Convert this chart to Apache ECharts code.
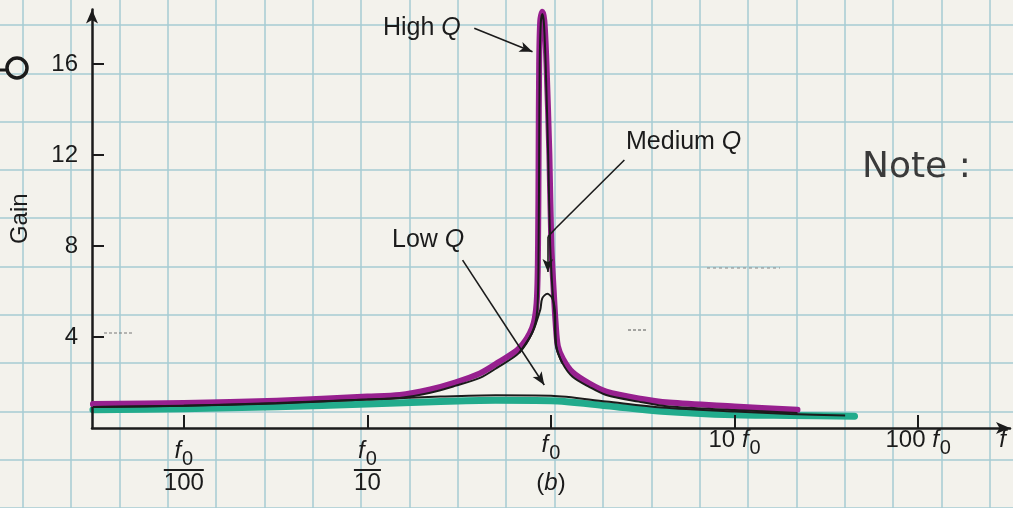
<!DOCTYPE html>
<html>
<head>
<meta charset="utf-8">
<title>Gain vs frequency</title>
<script src="https://cdn.jsdelivr.net/npm/echarts@6.0.0/dist/echarts.min.js"></script>
<style>
  html, body { margin:0; padding:0; background:#f3f2ec; }
  #chart { width:1013px; height:508px; }
</style>
</head>
<body>
<div id="chart"></div>
<script>
// x is f / f0 (log axis), y is gain
const yTicks = [4, 8, 12, 16];
const xTicks = [0.01, 0.1, 1, 10, 100];

// low Q: printed line and the green marker drawn under it
const lowFreq = [0.0032, 0.01, 0.032, 0.1, 0.25, 0.5, 1, 2, 4, 10, 20, 40];
const lowGain = [0.92, 0.98, 1.1, 1.25, 1.38, 1.44, 1.42, 1.16, 0.9, 0.72, 0.62, 0.55];
const lowMarkFreq = [0.0032, 0.01, 0.032, 0.1, 0.25, 0.5, 1, 2, 4, 10, 20, 45];
const lowMarkGain = [0.8, 0.85, 0.93, 1.05, 1.17, 1.22, 1.2, 0.98, 0.74, 0.58, 0.55, 0.52];

// high Q: printed line and the purple marker
const highFreq = [0.0032, 0.01, 0.032, 0.1, 0.15, 0.22, 0.3, 0.41, 0.52, 0.67,
  0.79, 0.842, 0.856, 0.862, 0.868, 0.88, 0.897, 0.915, 0.935, 0.965,
  0.99, 1.02, 1.045, 1.065, 1.156, 1.31, 1.62, 2, 3, 4.4, 10, 22];
const highGain = [0.92, 0.98, 1.08, 1.25, 1.32, 1.55, 1.85, 2.2, 2.7, 3.3,
  4.2, 5.2, 8, 12, 16, 17.8, 18.2, 17.8, 16, 12,
  8, 6, 5.0, 3.6, 2.84, 2.25, 1.8, 1.45, 1.16, 0.94, 0.79, 0.66];
const highMarkFreq = [0.0032, 0.01, 0.032, 0.1, 0.15, 0.22, 0.3, 0.41, 0.52, 0.67,
  0.79, 0.835, 0.85, 0.856, 0.862, 0.874, 0.897, 0.92, 0.945, 0.98,
  1.005, 1.035, 1.06, 1.09, 1.16, 1.31, 1.62, 2, 3, 4.4, 10, 22];
const highMarkGain = [1.05, 1.1, 1.2, 1.38, 1.45, 1.7, 2.0, 2.4, 2.9, 3.5,
  4.4, 5.5, 8, 12, 16, 17.9, 18.3, 17.9, 16, 12,
  8, 6, 4.6, 3.6, 3.05, 2.45, 1.95, 1.6, 1.3, 1.12, 0.95, 0.8];

// medium Q only differs from high Q near f0
const medFreq = [0.672, 0.791, 0.874, 0.896, 0.955, 1.016, 1.049, 1.069, 1.152];
const medGain = [3.3, 4.2, 5.2, 5.7, 5.9, 5.7, 5.2, 3.6, 2.84];

const FONT = "'Liberation Sans', Arial, sans-serif";
const INK = '#1b1b1b';
const PAPER_LINE = '#a6cbd3';

function pairs(xs, ys) {
  return xs.map((x, i) => [x, ys[i]]);
}

function tok(extra) {
  return Object.assign({ fontFamily: FONT, fontSize: 24, color: INK, align: 'center', verticalAlign: 'top' }, extra);
}

const xRich = {
  n: tok({}),
  f: tok({ fontStyle: 'italic' }),
  s: tok({ fontSize: 20, padding: [10, 0, 0, 1] }),
  P: tok({ fontStyle: 'italic', padding: [5, 0, 0, 0] }),
  Ps: tok({ fontSize: 20, padding: [15, 0, 0, 1] }),
  F: tok({ fontStyle: 'italic', padding: [11, 0, 0, 0] }),
  Fs: tok({ fontSize: 20, padding: [21, 0, 0, 1] }),
  bar3: { width: 40, height: 2, backgroundColor: INK, align: 'center', fontSize: 2 },
  bar2: { width: 27, height: 2, backgroundColor: INK, align: 'center', fontSize: 2 },
  pb: tok({ padding: [8, 0, 0, 0] }),
  bi: tok({ fontStyle: 'italic', padding: [8, 0, 0, 0] })
};

function xLabel(v) {
  const e = Math.round(Math.log10(v));
  if (e === -2) return '{F|f}{Fs|0}\n{bar3| }\n{n|100}';
  if (e === -1) return '{F|f}{Fs|0}\n{bar2| }\n{n|10}';
  if (e === 0) return '{P|f}{Ps|0}\n{pb|(}{bi|b}{pb|)}';
  if (e === 1) return '{n|10 }{f|f}{s|0}';
  if (e === 2) return '{n|100 }{f|f}{s|0}';
  return '';
}

const qRich = {
  a: { fontFamily: FONT, fontSize: 25, fill: INK },
  q: { fontFamily: FONT, fontSize: 25, fill: INK, fontStyle: 'italic' }
};

const chart = echarts.init(document.getElementById('chart'));

chart.setOption({
  backgroundColor: '#f3f2ec',
  animation: false,
  grid: [
    { left: 92, right: 3, top: 9.4, bottom: 80, outerBoundsMode: 'none' },
    // graph paper
    { left: -25.65, top: -23.3, width: 1063.7, height: 531.3, outerBoundsMode: 'none' }
  ],
  xAxis: [
    {
      type: 'log', logBase: 10, gridIndex: 0,
      min: Math.pow(10, -2.5), max: Math.pow(10, 2.5),
      z: 3,
      axisLine: { show: true, lineStyle: { color: INK, width: 2.5 }, symbol: ['none', 'arrow'], symbolSize: [9, 14] },
      axisTick: { show: true, inside: true, length: 13, lineStyle: { color: INK, width: 2 }, customValues: xTicks },
      axisLabel: { margin: 0, customValues: xTicks, formatter: xLabel, rich: xRich },
      splitLine: { show: false },
      minorTick: { show: false },
      name: 'f', nameLocation: 'end', nameGap: -4,
      nameTextStyle: { fontFamily: FONT, fontSize: 24, fontStyle: 'italic', color: INK, align: 'right', verticalAlign: 'top' }
    },
    {
      type: 'value', gridIndex: 1, min: 0, max: 22, interval: 1, z: 0,
      axisLine: { show: false }, axisTick: { show: false }, axisLabel: { show: false },
      splitLine: { show: true, lineStyle: { color: PAPER_LINE, width: 1.5 } }
    }
  ],
  yAxis: [
    {
      type: 'value', gridIndex: 0, min: 0, max: 18.4, z: 3,
      axisLine: { show: true, lineStyle: { color: INK, width: 2.5 }, symbol: ['none', 'arrow'], symbolSize: [9, 14] },
      axisTick: { show: true, inside: true, length: 12, lineStyle: { color: INK, width: 2 }, customValues: yTicks },
      axisLabel: { margin: 14, customValues: yTicks, fontFamily: FONT, fontSize: 24, color: INK },
      splitLine: { show: false },
      name: 'Gain', nameLocation: 'middle', nameGap: 60,
      nameTextStyle: { fontFamily: FONT, fontSize: 24, color: INK }
    },
    {
      type: 'value', gridIndex: 1, min: 0, max: 11, interval: 1, inverse: true, z: 0,
      axisLine: { show: false }, axisTick: { show: false }, axisLabel: { show: false },
      splitLine: { show: true, lineStyle: { color: PAPER_LINE, width: 1.5 } }
    }
  ],
  series: [
    {
      name: 'Low Q marker', type: 'line', z: 2, smooth: 0.3, showSymbol: false, silent: true,
      data: pairs(lowMarkFreq, lowMarkGain),
      lineStyle: { color: '#22ab8c', width: 7, cap: 'round' }
    },
    {
      name: 'High Q marker', type: 'line', z: 3, smooth: 0.3, showSymbol: false, silent: true,
      data: pairs(highMarkFreq, highMarkGain),
      lineStyle: { color: '#97208f', width: 6, cap: 'round', join: 'round' }
    },
    {
      name: 'Low Q', type: 'line', z: 4, smooth: 0.3, showSymbol: false, silent: true,
      data: pairs(lowFreq, lowGain),
      lineStyle: { color: INK, width: 2 }
    },
    {
      name: 'High Q', type: 'line', z: 4, smooth: 0.3, showSymbol: false, silent: true,
      data: pairs(highFreq, highGain),
      lineStyle: { color: INK, width: 2, join: 'round' }
    },
    {
      name: 'Medium Q', type: 'line', z: 4, smooth: 0.3, showSymbol: false, silent: true,
      data: pairs(medFreq, medGain),
      lineStyle: { color: INK, width: 2 },
      markLine: {
        silent: true, animation: false,
        label: { show: false },
        lineStyle: { color: INK, width: 1.6, type: 'solid' },
        symbolSize: [8, 13],
        data: [
          [{ coord: [0.382, 17.57], symbol: 'none' }, { coord: [0.793, 16.54], symbol: 'arrow' }],
          [{ coord: [0.33, 7.38], symbol: 'none' }, { coord: [0.919, 1.89], symbol: 'arrow' }],
          [{ coord: [2.51, 11.78], symbol: 'none' }, { coord: [1.065, 8.79], symbol: 'none' }],
          [{ coord: [1.065, 8.79], symbol: 'none' }, { coord: [0.961, 8.4], symbol: 'none' }],
          [{ coord: [0.961, 8.4], symbol: 'none' }, { coord: [0.961, 6.86], symbol: 'arrow' }]
        ]
      }
    }
  ],
  graphic: [
    { type: 'text', z: 20, x: 383, y: 28, style: { text: '{a|High }{q|Q}', rich: qRich, verticalAlign: 'middle' } },
    { type: 'text', z: 20, x: 626, y: 142, style: { text: '{a|Medium }{q|Q}', rich: qRich, verticalAlign: 'middle' } },
    { type: 'text', z: 20, x: 392, y: 240, style: { text: '{a|Low }{q|Q}', rich: qRich, verticalAlign: 'middle' } },
    { type: 'text', z: 20, x: 862, y: 168, style: { text: 'Note :', font: "36px 'DejaVu Sans'", fill: '#3a3a3a', verticalAlign: 'middle' } },
    { type: 'circle', z: 20, shape: { cx: 17, cy: 68, r: 10 }, style: { fill: 'none', stroke: INK, lineWidth: 3.5 } },
    { type: 'line', z: 20, shape: { x1: 0, y1: 70, x2: 7, y2: 70 }, style: { stroke: INK, lineWidth: 3 } },
    { type: 'line', z: 20, shape: { x1: 104, y1: 333, x2: 134, y2: 333 }, style: { stroke: '#777', lineWidth: 1, lineDash: [3, 2] } },
    { type: 'line', z: 20, shape: { x1: 707, y1: 268, x2: 780, y2: 268 }, style: { stroke: '#888', lineWidth: 1, lineDash: [3, 3] } },
    { type: 'line', z: 20, shape: { x1: 628, y1: 330, x2: 646, y2: 330 }, style: { stroke: '#555', lineWidth: 1.2, lineDash: [3, 2] } }
  ]
});
</script>
</body>
</html>
